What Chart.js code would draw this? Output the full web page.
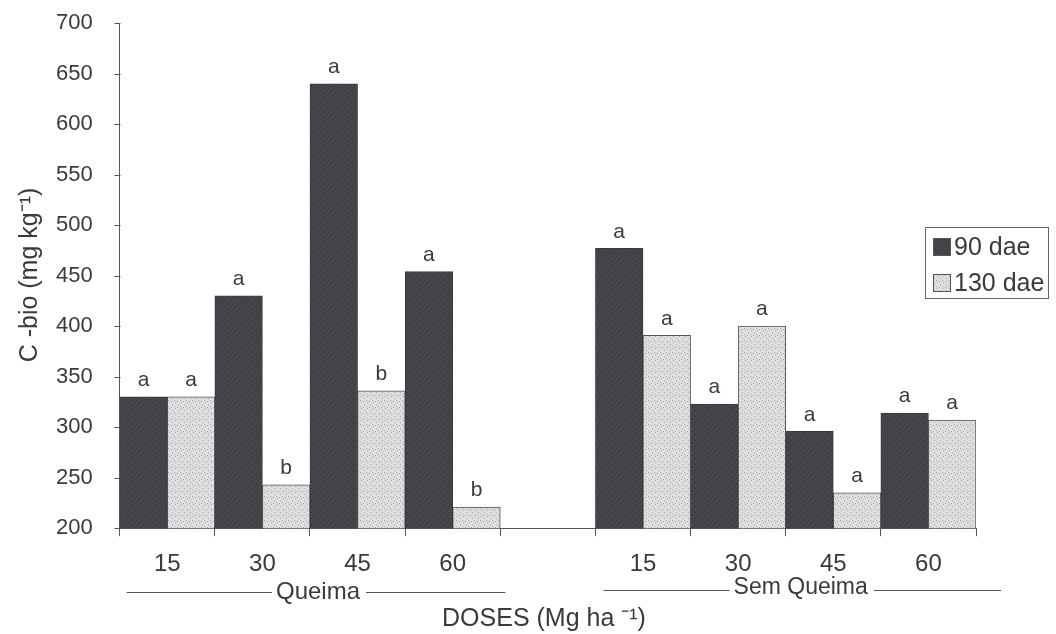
<!DOCTYPE html>
<html>
<head>
<meta charset="utf-8">
<script src="https://cdn.jsdelivr.net/npm/chart.js@4/dist/chart.umd.min.js"></script>
<style>
html,body{margin:0;padding:0;background:#fff;}
#wrap{width:1056px;height:634px;position:relative;}
</style>
</head>
<body>
<div id="wrap"><canvas id="c" width="1056" height="634"></canvas></div>
<script>
// ---- data ----
const categories = ['15','30','45','60','','15','30','45','60'];
const dae90 = [330, 430, 640, 454, null, 477, 323, 296, 314];
const dae130 = [330, 243, 336, 221, null, 391, 400, 235, 307];
const letters90 = ['a','a','a','a','','a','a','a','a'];
const letters130 = ['a','b','b','b','','a','a','a','a'];
const seriesNames = ['90 dae','130 dae'];
const groupNames = ['Queima','Sem Queima'];
const yTicks = [200,250,300,350,400,450,500,550,600,650,700];

const FONT = 'Liberation Sans, Arial, sans-serif';
const TXT = '#3a3a3a';
const AXIS = '#555';

function makePattern(base, dot, dots){
  const cv = document.createElement('canvas');
  cv.width = 6; cv.height = 6;
  const g = cv.getContext('2d');
  g.fillStyle = base; g.fillRect(0,0,6,6);
  g.fillStyle = dot;
  dots.forEach(p => g.fillRect(p[0],p[1],1,1));
  return g.createPattern(cv,'repeat');
}
const darkFill = makePattern('#47474d','#2e2e34',[[0,0],[3,1],[1,3],[4,4],[2,5],[5,2]]);
const lightFill = makePattern('#dedede','#a8a8a8',[[1,0],[4,2],[0,4],[3,5]]);

const letterPlugin = {
  id:'letters',
  afterDatasetsDraw(chart){
    const ctx = chart.ctx;
    ctx.save();
    ctx.font = '21px ' + FONT;
    ctx.fillStyle = TXT;
    ctx.textAlign = 'center';
    ctx.textBaseline = 'bottom';
    [letters90, letters130].forEach((arr, di) => {
      const meta = chart.getDatasetMeta(di);
      meta.data.forEach((el, i) => {
        if (!arr[i]) return;
        ctx.fillText(arr[i], el.x, el.y - 6);
      });
    });
    ctx.restore();
  }
};

const extrasPlugin = {
  id:'extras',
  afterDraw(chart){
    const ctx = chart.ctx;
    const xs = chart.scales.x;
    const ys = chart.scales.y;
    const step = xs.getPixelForValue(1) - xs.getPixelForValue(0);
    const left0 = xs.getPixelForValue(0) - step/2;
    ctx.save();
    // short y tick marks
    ctx.strokeStyle = AXIS;
    ctx.lineWidth = 1;
    ctx.beginPath();
    const ax = Math.round(ys.right) + 0.5;
    yTicks.forEach(v => {
      const py = Math.round(ys.getPixelForValue(v)) + 0.5;
      ctx.moveTo(ax - 6, py); ctx.lineTo(ax, py);
    });
    ctx.stroke();
    ctx.fillStyle = TXT;
    // group labels
    ctx.textAlign = 'center';
    ctx.textBaseline = 'middle';
    const groups = [
      {name: groupNames[0], size: 24, c: left0 + 2*step + 8, ty: 592, ly: 592, a: left0 + 7, b: left0 + 4*step + 5},
      {name: groupNames[1], size: 23, c: left0 + 7*step + 15, ty: 588, ly: 590, a: left0 + 5*step + 8, b: left0 + 9*step + 25}
    ];
    groups.forEach(g => {
      ctx.font = g.size + 'px ' + FONT;
      const w = ctx.measureText(g.name).width;
      ctx.fillText(g.name, g.c, g.ty);
      ctx.beginPath();
      ctx.moveTo(g.a, g.ly + 0.5); ctx.lineTo(g.c - w/2 - 4, g.ly + 0.5);
      ctx.moveTo(g.c + w/2 + 6, g.ly + 0.5); ctx.lineTo(g.b, g.ly + 0.5);
      ctx.stroke();
    });
    // x title
    ctx.font = '25px ' + FONT;
    ctx.fillText('DOSES (Mg ha \u207B\u00B9)', 544, 619);
    // y title
    ctx.save();
    ctx.translate(30, 275);
    ctx.rotate(-Math.PI/2);
    ctx.font = '25px ' + FONT;
    ctx.fillText('C -bio (mg kg\u207B\u00B9)', 0, 0);
    ctx.restore();
    // legend
    const lx = 925, ly = 227, lw = 123, lh = 71;
    ctx.fillStyle = '#fff';
    ctx.fillRect(lx, ly, lw, lh);
    ctx.strokeStyle = '#666';
    ctx.strokeRect(lx + 0.5, ly + 0.5, lw, lh);
    const fills = [darkFill, lightFill];
    ctx.textAlign = 'left';
    ctx.font = '25px ' + FONT;
    seriesNames.forEach((n, i) => {
      const cy = ly + 20 + i*36;
      ctx.fillStyle = fills[i];
      ctx.fillRect(lx + 8, cy - 9, 18, 18);
      ctx.strokeStyle = '#555';
      ctx.strokeRect(lx + 8.5, cy - 8.5, 17, 17);
      ctx.fillStyle = TXT;
      ctx.fillText(n, lx + 29, cy + 1);
    });
    ctx.restore();
  }
};

new Chart(document.getElementById('c'), {
  type: 'bar',
  data: {
    labels: categories,
    datasets: [
      {label: seriesNames[0], data: dae90, backgroundColor: darkFill, borderColor: '#3a3a3e', borderWidth: 1},
      {label: seriesNames[1], data: dae130, backgroundColor: lightFill, borderColor: '#555', borderWidth: 1}
    ]
  },
  options: {
    responsive: false,
    animation: false,
    events: [],
    layout: {padding: {left: 46, right: 80, top: 23, bottom: 41}},
    datasets: {bar: {barPercentage: 1.0, categoryPercentage: 1.0}},
    plugins: {legend: {display: false}, tooltip: {enabled: false}},
    scales: {
      x: {
        grid: {display: true, drawOnChartArea: false, offset: true, tickLength: 8, color: AXIS},
        border: {display: true, color: AXIS},
        ticks: {color: TXT, font: {family: FONT, size: 24}, padding: 14, maxRotation: 0, autoSkip: false}
      },
      y: {
        min: 200, max: 700,
        afterBuildTicks(scale){ scale.ticks = yTicks.map(v => ({value: v})); },
        grid: {display: true, drawOnChartArea: false, tickLength: 17, color: 'rgba(0,0,0,0)'},
        border: {display: true, color: AXIS},
        ticks: {color: TXT, font: {family: FONT, size: 22}, padding: 10}
      }
    }
  },
  plugins: [letterPlugin, extrasPlugin]
});
</script>
</body>
</html>
